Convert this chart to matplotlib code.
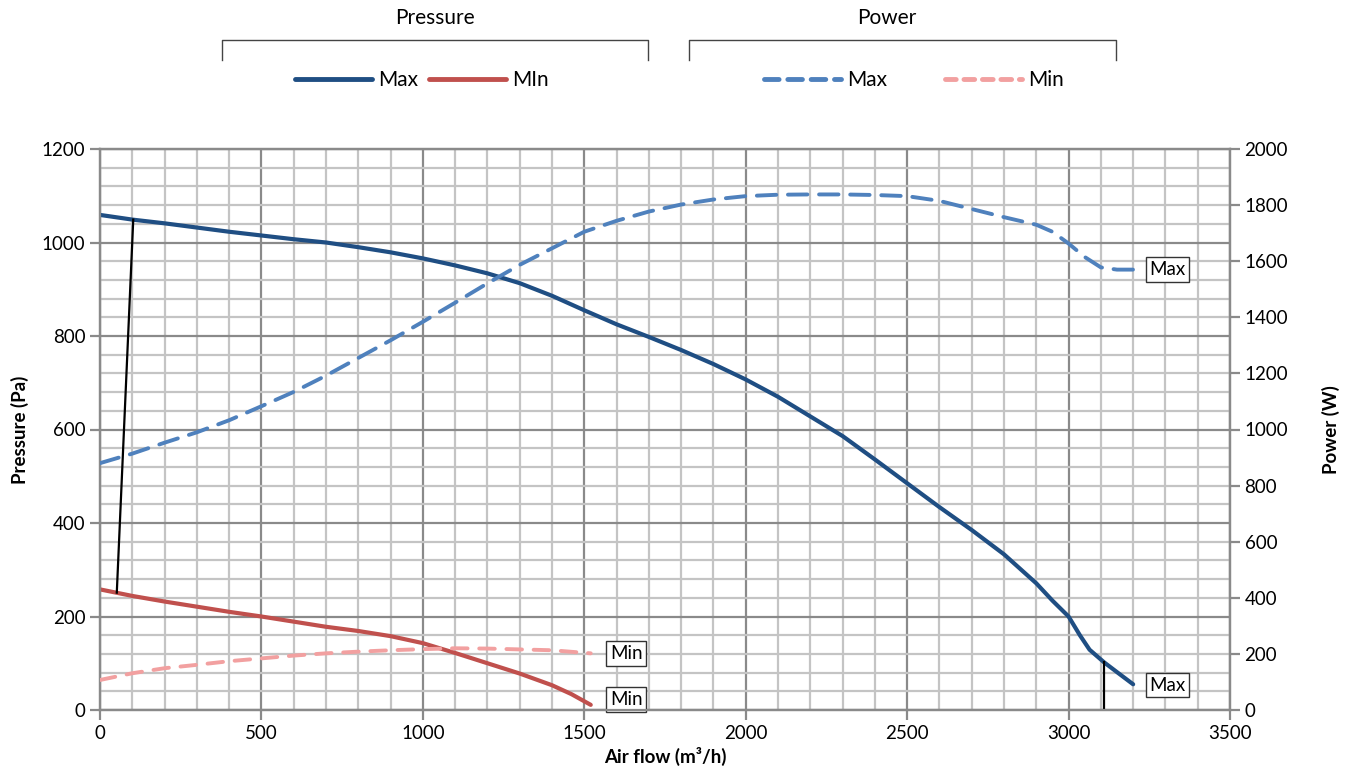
import numpy as np
import matplotlib
matplotlib.use("Agg")
import matplotlib.pyplot as plt
from matplotlib.lines import Line2D
from matplotlib.ticker import MultipleLocator

plt.rcParams['font.family'] = ['Lato', 'DejaVu Sans']

# Pressure curves (Pa)
p_max_flow = [0, 100, 200, 300, 400, 500, 600, 700, 800, 900, 1000, 1100, 1200, 1300, 1400,
              1500, 1600, 1700, 1800, 1900, 2000, 2100, 2200, 2300, 2400, 2500, 2600, 2700,
              2800, 2900, 2950, 3000, 3035, 3065, 3110, 3150, 3200]
p_max = [1059, 1049, 1041, 1032, 1023, 1015, 1007, 1000, 990, 979, 966, 951, 934, 913, 886,
         855, 825, 798, 770, 740, 707, 670, 628, 586, 536, 485, 434, 385, 333, 271, 234, 200,
         160, 129, 102, 81, 55]
p_min_flow = [0, 50, 100, 200, 300, 400, 500, 600, 700, 800, 900, 1000, 1100, 1200, 1300,
              1400, 1460, 1520]
p_min = [258, 251, 244, 232, 221, 210, 200, 189, 178, 169, 158, 143, 122, 100, 78, 53, 34, 11]

# Power curves (W)
w_max_flow = [0, 100, 200, 300, 400, 500, 600, 700, 800, 900, 1000, 1100, 1200, 1300, 1400,
              1500, 1600, 1700, 1800, 1900, 2000, 2100, 2200, 2300, 2400, 2500, 2600, 2700,
              2800, 2900, 2950, 3000, 3050, 3100, 3150, 3200]
w_max = [880, 914, 953, 990, 1033, 1083, 1134, 1192, 1255, 1318, 1384, 1452, 1521, 1587, 1646,
         1705, 1744, 1777, 1802, 1820, 1832, 1837, 1838, 1838, 1836, 1832, 1815, 1786, 1757,
         1730, 1705, 1663, 1615, 1578, 1570, 1570]
w_min_flow = [0, 100, 200, 300, 400, 500, 600, 700, 800, 900, 1000, 1100, 1200, 1300, 1400, 1520]
w_min = [107, 131, 149, 161, 174, 184, 194, 202, 208, 213, 217, 220, 219, 216, 213, 202]

# black limit lines (flow, pressure)
lim_left_flow = [52, 103]
lim_left_p = [251, 1049]
lim_right_flow = [3110, 3110]
lim_right_p = [0, 103]

c_pmax = "#1f4e83"
c_pmin = "#c0504d"
c_wmax = "#4f81bd"
c_wmin = "#f2a0a0"

fig = plt.figure(figsize=(13.55, 7.79), dpi=100)
ax = fig.add_axes([100 / 1355, 69 / 779, 1130 / 1355, 561 / 779])
ax2 = ax.twinx()

ax.set_xlim(0, 3500)
ax.set_ylim(0, 1200)
ax2.set_ylim(0, 2000)

# grid
ax.xaxis.set_major_locator(MultipleLocator(500))
ax.xaxis.set_minor_locator(MultipleLocator(100))
ax.yaxis.set_major_locator(MultipleLocator(200))
ax.yaxis.set_minor_locator(MultipleLocator(40))
ax2.yaxis.set_major_locator(MultipleLocator(200))
ax.grid(which='minor', color="#c4c4c4", lw=1.6)
ax.grid(which='major', color="#8a8a8a", lw=1.6)
ax.set_axisbelow(True)
for a in (ax, ax2):
    for s in a.spines.values():
        s.set_color("#8a8a8a")
        s.set_linewidth(1.6)
ax.tick_params(which='minor', length=0)
ax.tick_params(which='major', length=7, width=1.6, color="#8a8a8a", labelsize=13.5)
ax2.tick_params(which='major', length=7, width=1.6, color="#8a8a8a", labelsize=13.5)

# curves
solid = dict(solid_capstyle='round', solid_joinstyle='round')
ax.plot(p_max_flow, p_max, color=c_pmax, lw=3, zorder=5, **solid)
ax.plot(p_min_flow, p_min, color=c_pmin, lw=3, zorder=5, **solid)
ax2.plot(w_max_flow, w_max, color=c_wmax, lw=2.8, dashes=(5, 3), dash_capstyle='round',
         dash_joinstyle='round', zorder=4)
ax2.plot(w_min_flow, w_min, color=c_wmin, lw=2.8, dashes=(4, 3), dash_capstyle='round',
         dash_joinstyle='round', zorder=4)
ax.plot(lim_left_flow, lim_left_p, color="black", lw=1.6, zorder=6)
ax.plot(lim_right_flow, lim_right_p, color="black", lw=1.6, zorder=6)

box = dict(boxstyle="square,pad=0.2", fc="white", ec="#333333", lw=1)
ax.text(p_max_flow[-1] + 50, p_max[-1] - 2, "Max", fontsize=13.5, va='center', bbox=box, zorder=7)
ax.text(p_min_flow[-1] + 60, p_min[-1] + 11, "Min", fontsize=13.5, va='center', bbox=box, zorder=7)
ax2.text(w_max_flow[-1] + 50, w_max[-1], "Max", fontsize=13.5, va='center', bbox=box, zorder=7)
ax2.text(w_min_flow[-1] + 60, w_min[-1], "Min", fontsize=13.5, va='center', bbox=box, zorder=7)

ax.set_xlabel("Air flow (m³/h)", fontsize=13.5, fontweight='bold', labelpad=4)
ax.set_ylabel("Pressure (Pa)", fontsize=13.5, fontweight='bold', labelpad=9)
ax2.set_ylabel("Power (W)", fontsize=13.5, fontweight='bold', labelpad=24)

# top legends with brackets
def bracket(x0, x1, title, xt):
    y0, y1 = 1 - 40 / 779, 1 - 60 / 779
    fig.add_artist(Line2D([x0 / 1355, x0 / 1355, x1 / 1355, x1 / 1355], [y1, y0, y0, y1],
                          color="#444444", lw=1))
    fig.text(xt / 1355, 1 - 18 / 779, title, ha='center', va='center', fontsize=15)

bracket(222, 648, "Pressure", 435)
bracket(689, 1116, "Power", 887)

h1 = [Line2D([], [], color=c_pmax, lw=3.5, solid_capstyle='round'),
      Line2D([], [], color=c_pmin, lw=3.5, solid_capstyle='round')]
h2 = [Line2D([], [], color=c_wmax, lw=3.5, dashes=(3, 1.8), dash_capstyle='round'),
      Line2D([], [], color=c_wmin, lw=3.5, dashes=(2.2, 1.6), dash_capstyle='round')]
leg1 = fig.legend(h1, ["Max", "MIn"], loc='center', bbox_to_anchor=(422 / 1355, 1 - 80 / 779),
                  ncol=2, frameon=False, fontsize=15, handlelength=3.7, handletextpad=0.3,
                  columnspacing=0.5)
leg2 = fig.legend(h2, ["Max", "Min"], loc='center', bbox_to_anchor=(914 / 1355, 1 - 80 / 779),
                  ncol=2, frameon=False, fontsize=15, handlelength=3.7, handletextpad=0.3,
                  columnspacing=2.8)

fig.savefig("out.png", dpi=100)
